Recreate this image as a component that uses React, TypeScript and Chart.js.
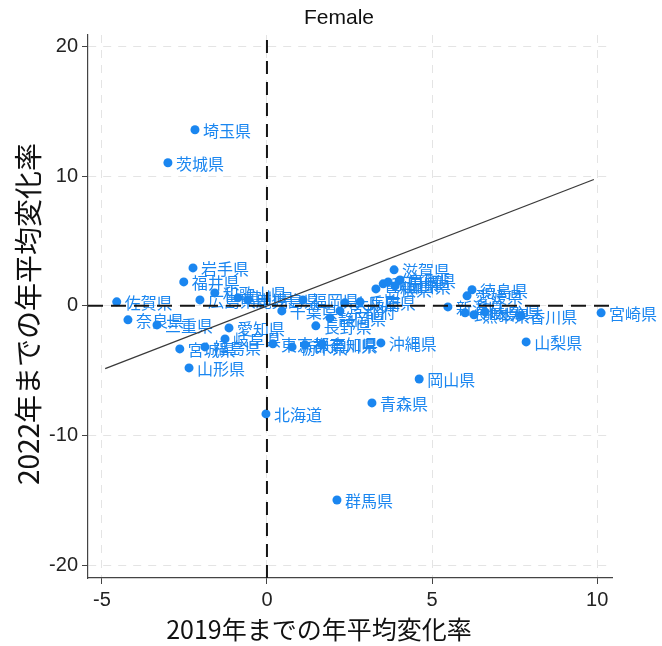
import React, { useEffect, useRef } from "react";
import { Chart, registerables } from "chart.js";

Chart.register(...registerables);

// Prefecture names and their average annual change rates (%)
const prefectures = [
  "北海道", "青森県", "岩手県", "宮城県", "秋田県", "山形県", "福島県", "茨城県",
  "栃木県", "群馬県", "埼玉県", "千葉県", "東京都", "神奈川県", "新潟県", "富山県",
  "石川県", "福井県", "山梨県", "長野県", "岐阜県", "静岡県", "愛知県", "三重県",
  "滋賀県", "京都府", "大阪府", "兵庫県", "奈良県", "和歌山県", "鳥取県", "島根県",
  "岡山県", "広島県", "山口県", "徳島県", "香川県", "愛媛県", "高知県", "福岡県",
  "佐賀県", "長崎県", "熊本県", "大分県", "宮崎県", "鹿児島県", "沖縄県",
];

// change rate up to 2019
const growthTo2019 = [
  -0.03, 3.18, -2.24, -2.64, 3.52, -2.36, -1.88, -3.0,
  0.76, 2.12, -2.18, 0.45, 0.18, 1.15, 5.48, -0.88,
  3.67, -2.52, 7.85, 1.48, -1.27, 1.91, -1.15, -3.33,
  3.85, 2.21, 2.36, 2.82, -4.21, -1.58, 4.03, 3.3,
  4.61, -2.03, 3.88, 6.21, 7.7, 6.06, 1.67, 1.09,
  -4.55, 6.0, 6.27, 6.6, 10.12, -0.58, 3.45,
];

// change rate up to 2022
const growthTo2022 = [
  -8.34, -7.49, 2.93, -3.32, 1.7, -4.79, -3.17, 11.04,
  -3.17, -14.98, 13.59, -0.39, -2.93, -3.01, -0.08, 0.62,
  1.85, 1.85, -2.78, -1.54, -2.55, -0.93, -1.7, -1.47,
  2.78, -0.39, 0.23, 0.31, -1.08, 1.0, 2.0, 1.31,
  -5.64, 0.46, 1.54, 1.24, -0.77, 0.77, -2.93, 0.46,
  0.31, -0.54, -0.69, -0.46, -0.54, 0.46, -2.86,
];

// fitted line end points
const fitX = [-4.9, 9.9];
const fitY = [-4.85, 9.75];

const xTicks = [-5, 0, 5, 10];
const yTicks = [-20, -10, 0, 10, 20];
const xRange = [-5.42, 10.45];
const yRange = [-21.0, 20.9];

const titleText = "Female";
const xTitle = "2019年までの年平均変化率";
const yTitle = "2022年までの年平均変化率";

const BLUE = "#1a86f0";
const CJK = '"Noto Sans CJK JP", "Noto Sans", sans-serif';
const LATIN = '"Liberation Sans", Arial, sans-serif';

const labelPlugin = {
  id: "pointLabels",
  beforeDatasetsDraw(chart: any) {
    const meta = chart.getDatasetMeta(0);
    const ctx = chart.ctx;
    ctx.save();
    ctx.font = `16px ${CJK}`;
    ctx.fillStyle = BLUE;
    ctx.textAlign = "left";
    ctx.textBaseline = "middle";
    meta.data.forEach((el: any, i: number) => {
      ctx.fillText(prefectures[i], el.x + 8, el.y + 1);
    });
    ctx.restore();
  },
};

const titlesPlugin = {
  id: "titles",
  afterDraw(chart: any) {
    const ctx = chart.ctx;
    ctx.save();
    ctx.fillStyle = "#111";
    ctx.textAlign = "center";
    ctx.textBaseline = "middle";
    ctx.font = `21px ${LATIN}`;
    ctx.fillText(titleText, 339, 18);
    ctx.font = `25px ${CJK}`;
    ctx.fillText(xTitle, 319, 629);
    ctx.translate(28, 314);
    ctx.rotate(-Math.PI / 2);
    ctx.font = `28px ${CJK}`;
    ctx.fillText(yTitle, 0, 0);
    ctx.restore();
  },
};

export default function App() {
  const ref = useRef<HTMLCanvasElement | null>(null);

  useEffect(() => {
    if (!ref.current) return;
    const points = growthTo2019.map((x, i) => ({ x, y: growthTo2022[i] }));
    const chart = new Chart(ref.current, {
      type: "scatter",
      data: {
        datasets: [
          {
            label: "prefectures",
            data: points,
            backgroundColor: BLUE,
            borderColor: BLUE,
            pointRadius: 4.5,
            pointBorderWidth: 0,
            order: 2,
          } as any,
          {
            label: "fit",
            data: fitX.map((x, i) => ({ x, y: fitY[i] })),
            showLine: true,
            borderColor: "#3a3a3a",
            borderWidth: 1.3,
            pointRadius: 0,
            order: 1,
          },
          {
            label: "x0",
            data: [
              { x: 0, y: yRange[0] },
              { x: 0, y: yRange[1] },
            ],
            showLine: true,
            borderColor: "#151515",
            borderWidth: 2,
            borderDash: [13, 8],
            pointRadius: 0,
            order: 0,
          },
          {
            label: "y0",
            data: [
              { x: xRange[0], y: 0 },
              { x: xRange[1], y: 0 },
            ],
            showLine: true,
            borderColor: "#151515",
            borderWidth: 2,
            borderDash: [15, 8],
            pointRadius: 0,
            order: 0,
          },
        ],
      },
      options: {
        animation: false,
        responsive: false,
        layout: { padding: { top: 35, right: 50, left: 0, bottom: 0 } },
        plugins: {
          legend: { display: false },
          tooltip: { enabled: false },
          title: { display: false },
        },
        scales: {
          x: {
            type: "linear",
            min: xRange[0],
            max: xRange[1],
            afterBuildTicks: (s: any) => {
              s.ticks = xTicks.map((v) => ({ value: v }));
            },
            afterFit: (s: any) => {
              s.height = 68;
            },
            ticks: {
              font: { family: LATIN, size: 20 },
              color: "#222",
              padding: 4,
            },
            grid: {
              color: "#e4e4e4",
              lineWidth: 1,
              tickColor: "#444",
              tickLength: 6,
            },
            border: { display: true, color: "#444", width: 1.2, dash: [8, 7] },
          },
          y: {
            type: "linear",
            min: yRange[0],
            max: yRange[1],
            afterBuildTicks: (s: any) => {
              s.ticks = yTicks.map((v) => ({ value: v }));
            },
            afterFit: (s: any) => {
              s.width = 88;
            },
            ticks: {
              font: { family: LATIN, size: 20 },
              color: "#222",
              padding: 4,
            },
            grid: {
              color: "#e4e4e4",
              lineWidth: 1,
              tickColor: "#444",
              tickLength: 6,
            },
            border: { display: true, color: "#444", width: 1.2, dash: [8, 7] },
          },
        },
      },
      plugins: [labelPlugin, titlesPlugin],
    } as any);
    return () => chart.destroy();
  }, []);

  return (
    <div
      style={{
        position: "absolute",
        left: 0,
        top: 0,
        width: 662,
        height: 646,
        background: "#fff",
      }}
    >
      <canvas ref={ref} width={662} height={646} style={{ width: 662, height: 646 }} />
    </div>
  );
}
